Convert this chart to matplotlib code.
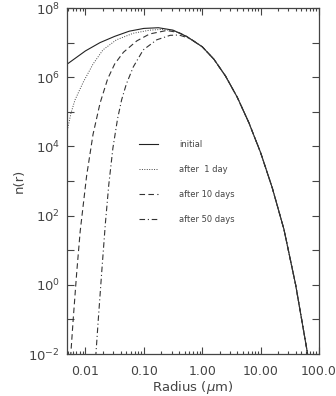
import numpy as np
import matplotlib
matplotlib.use('Agg')
import matplotlib.pyplot as plt
from matplotlib.ticker import FixedLocator, FixedFormatter, NullLocator

# values, as log10(radius in um) and log10(n)
init_logr = [-2.32, -2.0, -1.75, -1.5, -1.25, -1.0, -0.75, -0.5, -0.27, 0.0,
             0.2, 0.4, 0.6, 0.8, 1.0, 1.2, 1.4, 1.6, 1.8, 1.82]
init_logn = [6.37, 6.76, 7.0, 7.18, 7.33, 7.41, 7.43, 7.36, 7.18, 6.88,
             6.52, 6.03, 5.42, 4.68, 3.82, 2.80, 1.60, 0.0, -1.95, -2.2]

day1_logr = [-2.32, -2.25, -2.18, -2.04, -1.87, -1.70, -1.47, -1.18, -0.90, -0.70, -0.50]
day1_logn = [4.39, 4.95, 5.34, 5.85, 6.38, 6.79, 7.08, 7.27, 7.36, 7.38, 7.35]

day10_logr = [-2.255, -2.21, -2.15, -2.09, -1.98, -1.87, -1.75, -1.62, -1.50, -1.35,
              -1.12, -0.90, -0.61, -0.40]
day10_logn = [-2.1, -1.0, 0.35, 1.55, 3.15, 4.35, 5.25, 5.95, 6.38, 6.72,
              7.05, 7.25, 7.35, 7.29]

day50_logr = [-1.825, -1.78, -1.72, -1.66, -1.60, -1.53, -1.45, -1.38, -1.30, -1.18,
              -1.01, -0.78, -0.55, -0.40, -0.21]
day50_logn = [-2.1, -1.0, 0.4, 1.75, 2.9, 3.95, 4.8, 5.35, 5.8, 6.3,
              6.79, 7.08, 7.21, 7.22, 7.12]

labels = ['initial', 'after  1 day', 'after 10 days', 'after 50 days']
xtick_vals = [0.01, 0.1, 1, 10, 100]
xtick_labels = ['0.01', '0.10', '1.00', '10.00', '100.0']

def with_tail(logr, logn):
    # later curves follow the initial one past the point where they merge
    r_end = logr[-1]
    tail_r = [v for v in init_logr if v > r_end]
    tail_n = [n for v, n in zip(init_logr, init_logn) if v > r_end]
    return 10 ** np.array(logr + tail_r), 10 ** np.array(logn + tail_n)

grey = '#444444'
plt.rcParams['font.family'] = 'DejaVu Sans'
plt.rcParams['mathtext.fontset'] = 'dejavusans'

fig = plt.figure(figsize=(3.36, 3.96), dpi=100)
ax = fig.add_axes([67 / 336, 42 / 396, 252 / 336, 346 / 396])

lw = 0.8
ax.plot(10 ** np.array(init_logr), 10 ** np.array(init_logn), color='#222222', lw=lw,
        linestyle='-', label=labels[0])
r, n = with_tail(day1_logr, day1_logn)
ax.plot(r, n, color='#444444', lw=0.7, linestyle=(0, (1, 1.5)), label=labels[1])
r, n = with_tail(day10_logr, day10_logn)
ax.plot(r, n, color='#333333', lw=lw, linestyle=(0, (5, 3)), label=labels[2])
r, n = with_tail(day50_logr, day50_logn)
ax.plot(r, n, color='#333333', lw=lw, linestyle=(0, (5, 2.5, 1, 2.5)), label=labels[3])

ax.set_xscale('log')
ax.set_yscale('log')
ax.set_xlim(0.00483, 100)
ax.set_ylim(1e-2, 1e8)

ax.xaxis.set_major_locator(FixedLocator(xtick_vals))
ax.xaxis.set_major_formatter(FixedFormatter(xtick_labels))
minor = [m * 10.0 ** e for e in range(-3, 2) for m in range(2, 10)]
ax.xaxis.set_minor_locator(FixedLocator(minor))

ydec = [10.0 ** e for e in range(-2, 9)]
ax.yaxis.set_major_locator(FixedLocator(ydec))
ax.yaxis.set_major_formatter(FixedFormatter(
    ['$10^{%d}$' % e if e % 2 == 0 else '' for e in range(-2, 9)]))
ax.yaxis.set_minor_locator(NullLocator())

ax.tick_params(which='both', direction='in', top=True, right=True, colors=grey,
               labelsize=9.5, width=0.8)
ax.tick_params(which='major', length=5, pad=5)
ax.tick_params(axis='x', which='major', pad=8, labelsize=9)
ax.tick_params(which='minor', length=2.5)
for s in ax.spines.values():
    s.set_color(grey)
    s.set_linewidth(0.9)

ax.set_xlabel('Radius ($\\mu$m)', fontsize=9.5, color=grey, labelpad=1)
ax.set_ylabel('n(r)', fontsize=9.5, color=grey, labelpad=2)

ax.legend(loc='upper left', bbox_to_anchor=(0.285, 0.618), frameon=False,
          fontsize=6, handlelength=2.3, handletextpad=2.5, labelspacing=1.9,
          borderaxespad=0, borderpad=0, labelcolor=grey)

fig.savefig('out.png', dpi=100)
